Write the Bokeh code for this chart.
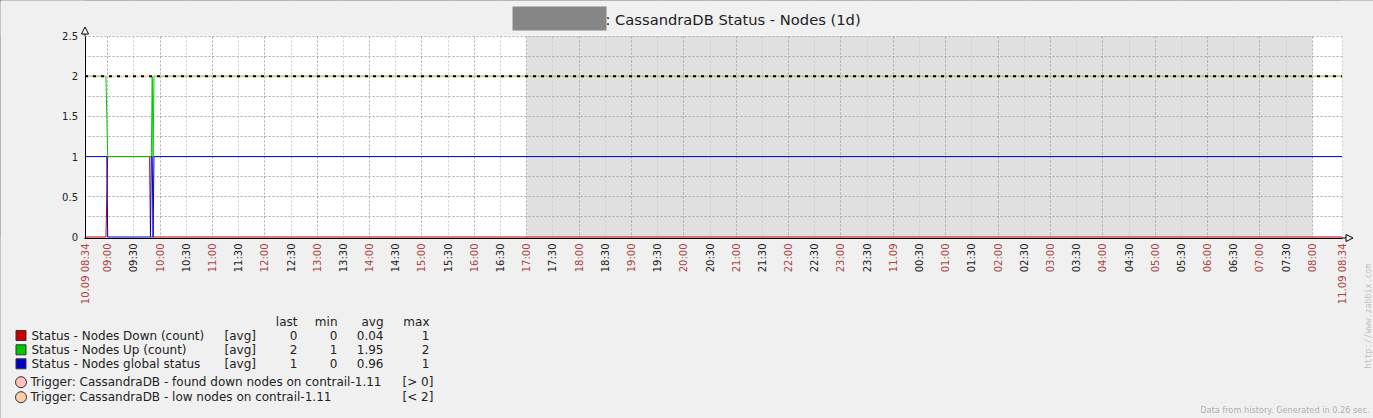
import math
from bokeh.plotting import figure
from bokeh.models import (Range1d, FixedTicker, Grid, BoxAnnotation, LinearAxis,
                          Arrow, NormalHead)
from bokeh.core.properties import value
from bokeh.embed import file_html
from bokeh.resources import INLINE

# ---------------- data ----------------
title_text = ": CassandraDB Status - Nodes (1d)"
period_start = "08:34"          # 10.09 08:34; the x axis runs for one day
period_minutes = 1440

tick_labels = ["10.09 08:34", "09:00", "09:30", "10:00", "10:30", "11:00", "11:30", "12:00",
               "12:30", "13:00", "13:30", "14:00", "14:30", "15:00", "15:30", "16:00", "16:30",
               "17:00", "17:30", "18:00", "18:30", "19:00", "19:30", "20:00", "20:30", "21:00",
               "21:30", "22:00", "22:30", "23:00", "23:30", "11.09", "00:30", "01:00", "01:30",
               "02:00", "02:30", "03:00", "03:30", "04:00", "04:30", "05:00", "05:30", "06:00",
               "06:30", "07:00", "07:30", "08:00", "11.09 08:34"]
nonwork_from = "17:00"
nonwork_to = "08:00"

y_max = 2.5
y_ticks = [0, 0.5, 1, 1.5, 2, 2.5]
y_tick_labels = ["0", "0.5", "1", "1.5", "2", "2.5"]
y_grid_values = [0.25, 0.5, 0.75, 1, 1.25, 1.5, 1.75, 2, 2.25, 2.5]

# minutes since 10.09 08:34
down_t = [0, 24, 25, 26, 74, 75, 1440]
down_v = [0, 0, 0.5, 1, 1, 0, 0]
up_t = [0, 24, 25, 26, 76, 77, 78, 79, 1440]
up_v = [2, 2, 1.5, 1, 1, 2, 1, 2, 2]
global_t = [0, 25, 26, 75, 76, 77, 78, 79, 1440]
global_v = [1, 1, 0, 0, 1, 1, 0, 1, 1]

series_names = ["Status - Nodes Down (count)", "Status - Nodes Up (count)",
                "Status - Nodes global status"]
series_colors = ["#c80000", "#00c800", "#0000c8"]
series_func = ["[avg]", "[avg]", "[avg]"]
stat_headers = ["last", "min", "avg", "max"]
series_last = ["0", "2", "1"]
series_min = ["0", "1", "0"]
series_avg = ["0.04", "1.95", "0.96"]
series_max = ["1", "2", "1"]

trigger_names = ["Trigger: CassandraDB - found down nodes on contrail-1.11",
                 "Trigger: CassandraDB - low nodes on contrail-1.11"]
trigger_conds = ["[> 0]", "[< 2]"]
trigger_colors = ["#ffc0c0", "#ffccaa"]
trigger_line_value = 2

footer_text = "Data from history. Generated in 0.26 sec."
side_text = "http://www.zabbix.com"

# ---------------- helpers ----------------
def hm(s):
    h, m = s.split(":")
    return int(h) * 60 + int(m)

START = hm(period_start)
tick_pos, tick_col, hour_pos, half_pos = [], [], [], []
day = 0
for lbl in tick_labels:
    parts = lbl.split(" ")
    if "." in parts[0]:
        day = int(parts[0].split(".")[0]) - 10
        clock = parts[1] if len(parts) > 1 else "00:00"
    else:
        clock = parts[0]
    pos = day * 1440 + hm(clock) - START
    tick_pos.append(pos)
    tick_col.append("#aa4444" if (clock.endswith(":00") or "." in lbl) else "#222222")
    if clock.endswith(":00") and pos > 0:
        hour_pos.append(pos)
    if clock.endswith(":30"):
        half_pos.append(pos)
hour_pos.append(period_minutes)

nw_start = hm(nonwork_from) - START
nw_end = hm(nonwork_to) + 1440 - START

FONT = "DejaVu Sans"
BG = "#f0f0f0"
W, H = 1373, 418
K = 1257 / period_minutes         # px per minute
YP = 201 / y_max                  # px per unit
FX0, FY0, FYT = 84.5, 236.5, 35.5  # page x of minute 0, page y of value 0 and of y_max

p = figure(width=W, height=H,
           x_range=Range1d(-FX0 / K, (W - FX0) / K),
           y_range=Range1d(-(H - FY0) / YP, y_max + FYT / YP),
           x_axis_location=None, y_axis_location=None, min_border=0,
           output_backend="svg", toolbar_location=None,
           background_fill_color="white", border_fill_color=BG, outline_line_color=None,
           extra_x_ranges={"px": Range1d(0, W)}, extra_y_ranges={"py": Range1d(0, H)})
for g in list(p.grid):
    g.visible = False
p.styles = {"outline": "1px solid #444444", "outline-offset": "-1px"}

# graph area: non-working hours, grid, page colour around it
p.add_layout(BoxAnnotation(left=nw_start, right=nw_end, bottom=0, top=y_max,
                           fill_color="#e0e0e0", fill_alpha=1, line_color=None, level="image"))
p.add_layout(Grid(dimension=0, ticker=FixedTicker(ticks=half_pos), grid_line_color="#cccccc",
                  grid_line_dash="2 2"))
p.add_layout(Grid(dimension=0, ticker=FixedTicker(ticks=hour_pos), grid_line_color="#aaaaaa",
                  grid_line_dash="2 2"))
p.add_layout(Grid(dimension=1, ticker=FixedTicker(ticks=y_grid_values), grid_line_color="#aaaaaa",
                  grid_line_dash="2 2"))
for kw in (dict(right=-0.5 / K), dict(left=period_minutes + 0.5 / K),
           dict(bottom=y_max + 0.5 / YP), dict(top=-0.5 / YP)):
    p.add_layout(BoxAnnotation(fill_color=BG, fill_alpha=1, line_color=None, level="underlay", **kw))

# axes
xloc = -1 / YP
xaxis = LinearAxis(fixed_location=xloc, bounds=(-1 / K, period_minutes),
                   ticker=FixedTicker(ticks=[]), major_tick_out=0, major_tick_in=0,
                   minor_tick_out=0, minor_tick_in=0, major_label_text_font_size="0px",
                   axis_line_color="black")
p.add_layout(xaxis, "below")
yaxis = LinearAxis(fixed_location=0, bounds=(xloc, y_max), ticker=FixedTicker(ticks=y_ticks),
                   major_label_overrides={t: l for t, l in zip(y_ticks, y_tick_labels)},
                   major_label_text_font=FONT, major_label_text_font_size="10px",
                   major_label_text_color="#222222", major_tick_out=0, major_tick_in=0,
                   minor_tick_out=0, minor_tick_in=0,
                   major_label_standoff=7, axis_line_color="black")
p.add_layout(yaxis, "left")

# data
p.line(down_t, down_v, line_color=series_colors[0], line_width=1)
p.line(up_t, up_v, line_color=series_colors[1], line_width=1)
p.line(global_t, global_v, line_color=series_colors[2], line_width=1)

# trigger threshold line
p.line([0, period_minutes], [trigger_line_value] * 2, line_color=trigger_colors[1],
       line_alpha=0.6, line_width=2)
p.line([0, period_minutes], [trigger_line_value] * 2, line_color="black", line_width=2,
       line_dash="3 5")

# axis arrows
p.add_layout(Arrow(end=NormalHead(size=7, fill_color="white", line_color="black", line_width=1),
                   x_start=period_minutes, y_start=xloc, x_end=period_minutes + 11 / K, y_end=xloc,
                   line_color="black", line_width=1))
p.add_layout(Arrow(end=NormalHead(size=7, fill_color="white", line_color="black", line_width=1),
                   x_start=0, y_start=y_max, x_end=0, y_end=y_max + 9 / YP,
                   line_color="black", line_width=1))


def py(y):
    return H - y


# x tick labels (time on the chart's own x scale)
p.text(x=tick_pos, y=[py(243)] * len(tick_pos), y_range_name="py", text=tick_labels,
       angle=math.pi / 2, text_align="right", text_baseline="middle", text_color=tick_col,
       text_font=value(FONT), text_font_size=value("10px"))


def ptxt(xs, ys, texts, size="12px", color="#222222", align="left", font=FONT, angle=0):
    p.text(x=xs, y=[py(y) for y in ys], text=texts, x_range_name="px", y_range_name="py",
           angle=angle, text_font=value(font), text_font_size=value(size), text_color=color,
           text_align=align, text_baseline="middle")


# title (host name is blurred in the original)
p.rect(x=[559], y=[py(18)], width=[94], height=[24], fill_color="#868686", line_color=None,
       x_range_name="px", y_range_name="py")
ptxt([605], [19], [title_text], size="14.7px")

# legend
stat_x = [297, 337, 383, 429]
ptxt(stat_x, [321.7] * 4, stat_headers, align="right")
row_y = [335, 349.3, 363.3]
p.scatter(x=[20.5] * 3, y=[py(y) for y in row_y], marker="square", size=10,
          fill_color=series_colors, line_color="#333333", x_range_name="px", y_range_name="py")
ptxt([31] * 3, row_y, series_names)
ptxt([224] * 3, row_y, series_func)
for sx, vals in zip(stat_x, [series_last, series_min, series_avg, series_max]):
    ptxt([sx] * 3, row_y, vals, align="right")

trig_y = [381.7, 396.7]
p.scatter(x=[20.5] * 2, y=[py(y) for y in trig_y], marker="circle", size=11,
          fill_color=trigger_colors, line_color="#333333", x_range_name="px", y_range_name="py")
ptxt([30] * 2, trig_y, trigger_names)
ptxt([402] * 2, trig_y, trigger_conds)

ptxt([1369], [409], [footer_text], size="8.2px", color="#b0b0b0", align="right")
ptxt([1367], [368], [side_text], size="8.3px", color="#c0c0c0", align="left",
     font="DejaVu Sans Mono", angle=math.pi / 2)

open("out.html", "w").write(file_html(p, INLINE))
